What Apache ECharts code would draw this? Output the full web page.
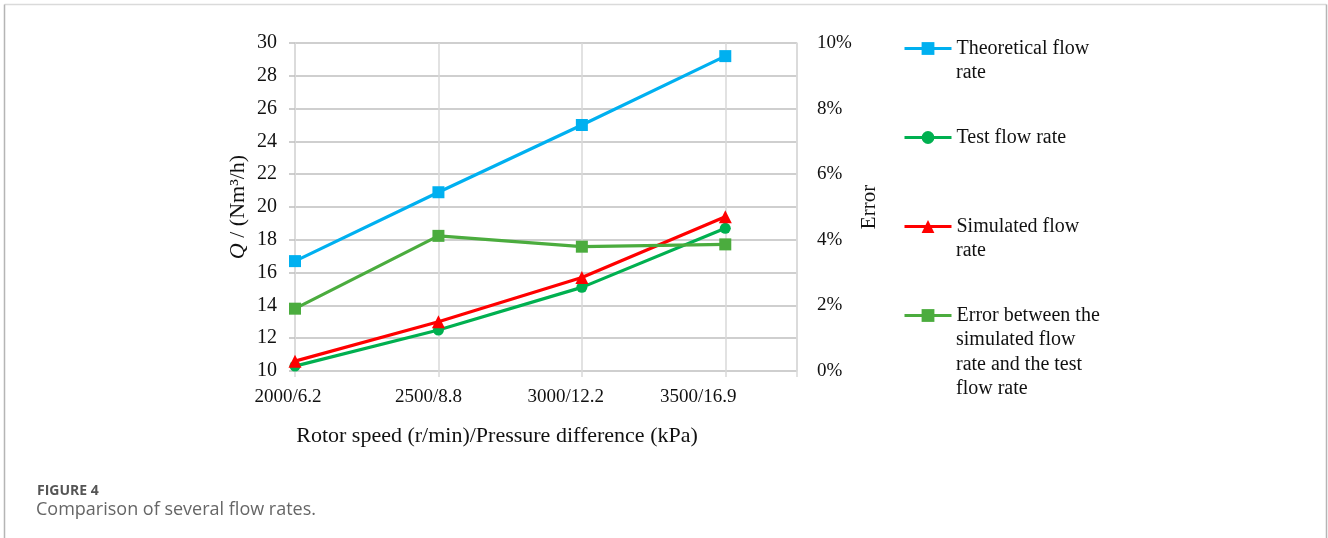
<!DOCTYPE html>
<html>
<head>
<meta charset="utf-8">
<script src="https://cdn.jsdelivr.net/npm/echarts@6/dist/echarts.min.js"></script>
<style>
html,body{margin:0;padding:0;background:#fff;}
#chart{width:1328px;height:538px;}
</style>
</head>
<body>
<div id="chart"></div>
<script>
const categories = ['2000/6.2', '2500/8.8', '3000/12.2', '3500/16.9'];
const theoretical = [16.7, 20.9, 25.0, 29.2];
const test = [10.3, 12.5, 15.1, 18.7];
const simulated = [10.6, 13.0, 15.7, 19.4];
const errorRate = [0.019, 0.0412, 0.0379, 0.0386];
const leftTicks = [10, 12, 14, 16, 18, 20, 22, 24, 26, 28, 30];
const rightTicks = [0, 0.02, 0.04, 0.06, 0.08, 0.10];

const seriesNames = ['Theoretical flow rate', 'Test flow rate', 'Simulated flow rate',
  'Error between the simulated flow rate and the test flow rate'];
const legendFirstLines = {
  'Theoretical flow rate': 'Theoretical flow',
  'Test flow rate': 'Test flow rate',
  'Simulated flow rate': 'Simulated flow',
  'Error between the simulated flow rate and the test flow rate': 'Error between the'
};

const serif = 'Liberation Serif';
const pts = arr => arr.map((v, i) => [i, v]);
const legendFont = '20px "Liberation Serif"';

const chart = echarts.init(document.getElementById('chart'));
chart.setOption({
  backgroundColor: '#fff',
  animation: false,
  textStyle: { fontFamily: serif },
  grid: { left: 295, right: 531, top: 43, bottom: 167, containLabel: false },
  xAxis: {
    type: 'value', min: 0, max: 3.5, interval: 1,
    name: 'Rotor speed (r/min)/Pressure difference (kPa)',
    nameLocation: 'middle', nameGap: 54,
    nameTextStyle: { fontFamily: serif, fontSize: 22, color: '#111', padding: [0, 98, 0, 0] },
    axisLine: { show: false },
    axisTick: { show: true, length: 6, lineStyle: { color: '#d9d9d9', width: 1.5 } },
    axisLabel: {
      fontFamily: serif, fontSize: 19, color: '#111', margin: 17,
      formatter: v => (Number.isInteger(v) && categories[v] !== undefined) ? '{l' + v + '|' + categories[v] + '}' : '',
      rich: {
        l0: { fontFamily: serif, fontSize: 19, color: '#111', padding: [0, 14, 0, 0] },
        l1: { fontFamily: serif, fontSize: 19, color: '#111', padding: [0, 20, 0, 0] },
        l2: { fontFamily: serif, fontSize: 19, color: '#111', padding: [0, 32, 0, 0] },
        l3: { fontFamily: serif, fontSize: 19, color: '#111', padding: [0, 54, 0, 0] }
      }
    },
    splitLine: { show: true, lineStyle: { color: '#d9d9d9', width: 1.5 } }
  },
  yAxis: [{
    type: 'value', min: leftTicks[0], max: leftTicks[leftTicks.length - 1], interval: 2,
    name: '{i|Q} / (Nm³/h)', nameLocation: 'middle', nameGap: 46, nameRotate: 90,
    nameTextStyle: {
      fontFamily: serif, fontSize: 22, color: '#111',
      rich: { i: { fontFamily: serif, fontStyle: 'italic', fontSize: 22, color: '#111' } }
    },
    axisLine: { show: true, lineStyle: { color: '#d9d9d9', width: 1.5 } },
    axisTick: { show: true, length: 6, lineStyle: { color: '#bfbfbf', width: 1.5 } },
    axisLabel: { fontFamily: serif, fontSize: 20, color: '#111', margin: 18 },
    splitLine: { show: true, lineStyle: { color: '#bfbfbf', width: 1.5 } }
  }, {
    type: 'value', min: rightTicks[0], max: rightTicks[rightTicks.length - 1], interval: 0.02,
    position: 'right',
    name: 'Error', nameLocation: 'middle', nameGap: 62, nameRotate: 90,
    nameTextStyle: { fontFamily: serif, fontSize: 21, color: '#111' },
    axisLine: { show: true, lineStyle: { color: '#d9d9d9', width: 1.5 } },
    axisTick: { show: false },
    axisLabel: { fontFamily: serif, fontSize: 19, color: '#111', margin: 20,
      formatter: v => Math.round(v * 100) + '%' },
    splitLine: { show: false }
  }],
  legend: {
    orient: 'vertical', left: 898, top: 31, itemWidth: 47, itemHeight: 16, itemGap: 64,
    data: seriesNames,
    formatter: name => legendFirstLines[name],
    lineStyle: { width: 3 },
    textStyle: { fontFamily: serif, fontSize: 20, color: '#111', lineHeight: 25 }
  },
  graphic: [
    { type: 'line', shape: { x1: 4.5, y1: 4.5, x2: 1326.5, y2: 4.5 }, style: { stroke: '#dadada', lineWidth: 1.5 }, silent: true },
    { type: 'line', shape: { x1: 4.5, y1: 4.5, x2: 4.5, y2: 538 }, style: { stroke: '#b5b5b5', lineWidth: 1.5 }, silent: true },
    { type: 'line', shape: { x1: 1326.5, y1: 4.5, x2: 1326.5, y2: 538 }, style: { stroke: '#b5b5b5', lineWidth: 1.5 }, silent: true },
    { type: 'text', x: 956, y: 73, style: { text: 'rate', font: legendFont, fill: '#111', verticalAlign: 'middle' } },
    { type: 'text', x: 956, y: 251, style: { text: 'rate', font: legendFont, fill: '#111', verticalAlign: 'middle' } },
    { type: 'text', x: 956, y: 340, style: { text: 'simulated flow', font: legendFont, fill: '#111', verticalAlign: 'middle' } },
    { type: 'text', x: 956, y: 364.5, style: { text: 'rate and the test', font: legendFont, fill: '#111', verticalAlign: 'middle' } },
    { type: 'text', x: 956, y: 389, style: { text: 'flow rate', font: legendFont, fill: '#111', verticalAlign: 'middle' } },
    { type: 'text', x: 37, y: 491, style: { text: 'FIGURE 4', font: 'bold 14px "Open Sans"', fill: '#555', verticalAlign: 'middle' } },
    { type: 'text', x: 36, y: 510, style: { text: 'Comparison of several flow rates.', font: '18px "Open Sans"', fill: '#666', verticalAlign: 'middle' } }
  ],
  series: [{
    name: seriesNames[0], type: 'line', data: pts(theoretical), yAxisIndex: 0,
    symbol: 'rect', symbolSize: 12, lineStyle: { color: '#00B0F0', width: 3.2 },
    itemStyle: { color: '#00B0F0' }
  }, {
    name: seriesNames[1], type: 'line', data: pts(test), yAxisIndex: 0,
    symbol: 'circle', symbolSize: 11, lineStyle: { color: '#00B050', width: 3.2 },
    itemStyle: { color: '#00B050' }
  }, {
    name: seriesNames[2], type: 'line', data: pts(simulated), yAxisIndex: 0,
    symbol: 'triangle', symbolSize: 13, lineStyle: { color: '#FF0000', width: 3.2 },
    itemStyle: { color: '#FF0000' }
  }, {
    name: seriesNames[3], type: 'line', data: pts(errorRate), yAxisIndex: 1,
    symbol: 'rect', symbolSize: 12, lineStyle: { color: '#4BAC3E', width: 3.2 },
    itemStyle: { color: '#4BAC3E' }
  }]
});
</script>
</body>
</html>
